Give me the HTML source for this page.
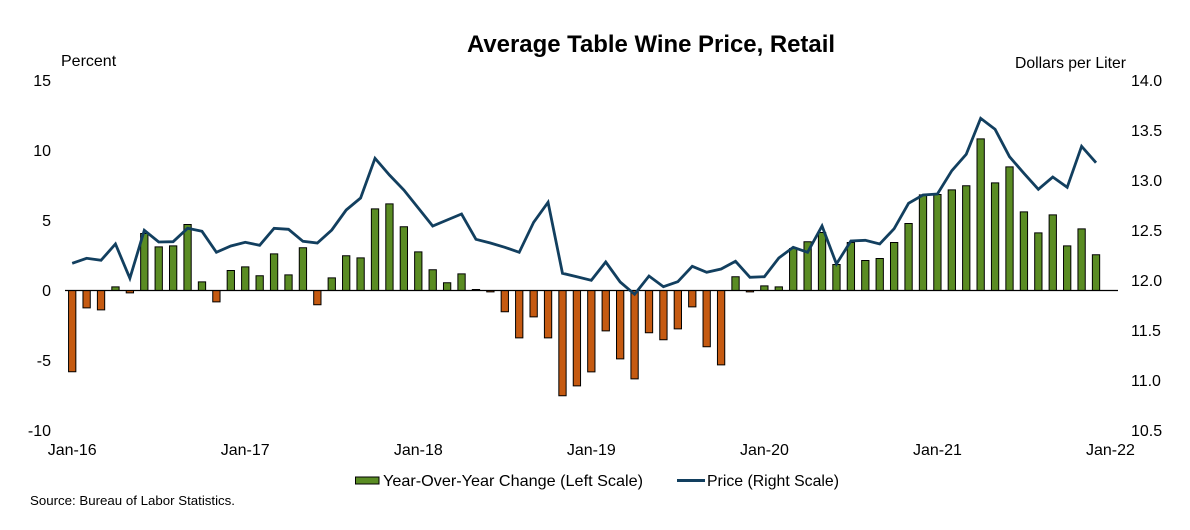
<!DOCTYPE html>
<html>
<head>
<meta charset="utf-8">
<style>
html,body{margin:0;padding:0;background:#fff}
svg{display:block}
text{font-family:"Liberation Sans",Arial,sans-serif;fill:#000}
.ns{vector-effect:non-scaling-stroke}
</style>
</head>
<body>
<svg width="1190" height="530" viewBox="0 0 1190 530" xmlns="http://www.w3.org/2000/svg">
<rect width="1190" height="530" fill="#fff"/>
<text x="467" y="52" font-size="24" font-weight="bold" textLength="368" lengthAdjust="spacingAndGlyphs">Average  Table Wine Price, Retail</text>
<text x="61" y="66" font-size="16">Percent</text>
<text x="1015" y="68" font-size="16" textLength="111" lengthAdjust="spacingAndGlyphs">Dollars per Liter</text>
<g font-size="16" text-anchor="end">
<text x="51" y="86">15</text><text x="51" y="156">10</text><text x="51" y="226">5</text>
<text x="51" y="296">0</text><text x="51" y="366">-5</text><text x="51" y="436">-10</text>
</g>
<g font-size="16">
<text x="1131" y="86">14.0</text><text x="1131" y="136">13.5</text><text x="1131" y="186">13.0</text>
<text x="1131" y="236">12.5</text><text x="1131" y="286">12.0</text><text x="1131" y="336">11.5</text>
<text x="1131" y="386">11.0</text><text x="1131" y="436">10.5</text>
</g>
<g font-size="16" text-anchor="middle">
<text x="72.2" y="455">Jan-16</text><text x="245.2" y="455">Jan-17</text><text x="418.3" y="455">Jan-18</text>
<text x="591.3" y="455">Jan-19</text><text x="764.4" y="455">Jan-20</text><text x="937.4" y="455">Jan-21</text>
<text x="1110.4" y="455">Jan-22</text>
</g>
<g transform="translate(72.2,290.5) scale(14.42,-14)" stroke="#000" stroke-width="1">
<path class="ns" fill="#C55A11" d="
M-0.253,0v-5.8h0.506v5.8z
M0.747,0v-1.24h0.506v1.24z
M1.747,0v-1.38h0.506v1.38z
M3.747,0v-0.17h0.506v0.17z
M9.747,0v-0.81h0.506v0.81z
M16.747,0v-1.02h0.506v1.02z
M28.747,0v-0.1h0.506v0.1z
M29.747,0v-1.52h0.506v1.52z
M30.747,0v-3.38h0.506v3.38z
M31.747,0v-1.88h0.506v1.88z
M32.747,0v-3.38h0.506v3.38z
M33.747,0v-7.52h0.506v7.52z
M34.747,0v-6.81h0.506v6.81z
M35.747,0v-5.81h0.506v5.81z
M36.747,0v-2.88h0.506v2.88z
M37.747,0v-4.88h0.506v4.88z
M38.747,0v-6.31h0.506v6.31z
M39.747,0v-3.02h0.506v3.02z
M40.747,0v-3.52h0.506v3.52z
M41.747,0v-2.74h0.506v2.74z
M42.747,0v-1.17h0.506v1.17z
M43.747,0v-4.02h0.506v4.02z
M44.747,0v-5.31h0.506v5.31z
M46.747,0v-0.1h0.506v0.1z"/>
<path class="ns" fill="#5A8C23" d="
M2.747,0v0.26h0.506v-0.26z
M4.747,0v4.07h0.506v-4.07z
M5.747,0v3.12h0.506v-3.12z
M6.747,0v3.19h0.506v-3.19z
M7.747,0v4.71h0.506v-4.71z
M8.747,0v0.62h0.506v-0.62z
M10.747,0v1.43h0.506v-1.43z
M11.747,0v1.69h0.506v-1.69z
M12.747,0v1.05h0.506v-1.05z
M13.747,0v2.62h0.506v-2.62z
M14.747,0v1.12h0.506v-1.12z
M15.747,0v3.05h0.506v-3.05z
M17.747,0v0.9h0.506v-0.9z
M18.747,0v2.48h0.506v-2.48z
M19.747,0v2.33h0.506v-2.33z
M20.747,0v5.83h0.506v-5.83z
M21.747,0v6.19h0.506v-6.19z
M22.747,0v4.55h0.506v-4.55z
M23.747,0v2.76h0.506v-2.76z
M24.747,0v1.48h0.506v-1.48z
M25.747,0v0.55h0.506v-0.55z
M26.747,0v1.19h0.506v-1.19z
M27.747,0v0.07h0.506v-0.07z
M45.747,0v0.98h0.506v-0.98z
M47.747,0v0.33h0.506v-0.33z
M48.747,0v0.26h0.506v-0.26z
M49.747,0v3.0h0.506v-3.0z
M50.747,0v3.48h0.506v-3.48z
M51.747,0v4.14h0.506v-4.14z
M52.747,0v1.86h0.506v-1.86z
M53.747,0v3.43h0.506v-3.43z
M54.747,0v2.14h0.506v-2.14z
M55.747,0v2.29h0.506v-2.29z
M56.747,0v3.43h0.506v-3.43z
M57.747,0v4.79h0.506v-4.79z
M58.747,0v6.83h0.506v-6.83z
M59.747,0v6.86h0.506v-6.86z
M60.747,0v7.19h0.506v-7.19z
M61.747,0v7.48h0.506v-7.48z
M62.747,0v10.83h0.506v-10.83z
M63.747,0v7.69h0.506v-7.69z
M64.747,0v8.83h0.506v-8.83z
M65.747,0v5.62h0.506v-5.62z
M66.747,0v4.12h0.506v-4.12z
M67.747,0v5.4h0.506v-5.4z
M68.747,0v3.19h0.506v-3.19z
M69.747,0v4.4h0.506v-4.4z
M70.747,0v2.55h0.506v-2.55z"/>
</g>
<line x1="65" y1="290.5" x2="1118" y2="290.5" stroke="#000" stroke-width="1.2"/>
<g transform="translate(72.2,0) scale(14.42,1)">
<polyline class="ns" fill="none" stroke="#123F5F" stroke-width="2.8" points="0,263.3 1,258.3 2,260.3 3,244 4,278.3 5,230.3 6,242 7,241.7 8,228.3 9,231.3 10,252.3 11,246 12,242.3 13,245.3 14,228.3 15,229.3 16,241.3 17,243 18,230 19,210 20,198 21,158.3 22,175 23,190 24,208 25,226 26,220 27,214 28,239.3 29,243 30,247.3 31,252.3 32,222.3 33,202.3 34,273.3 35,276.7 36,280.3 37,262 38,282 39,294.3 40,276 41,286.7 42,281.7 43,266.3 44,272.3 45,269 46,261.3 47,277.3 48,276.7 49,258 50,247.3 51,252.3 52,226 53,264 54,241 55,240.3 56,244 57,228.7 58,203.3 59,195 60,194 61,170.7 62,154.3 63,118.3 64,129.3 65,156.7 66,173.3 67,189.3 68,177 69,187.3 70,146.3 71,162.7"/>
</g>
<rect x="355.5" y="477" width="23.5" height="7" fill="#5A8C23" stroke="#000" stroke-width="1"/>
<text x="383" y="486" font-size="16" textLength="260" lengthAdjust="spacingAndGlyphs">Year-Over-Year Change (Left Scale)</text>
<line x1="677" y1="480.5" x2="705" y2="480.5" stroke="#123F5F" stroke-width="3"/>
<text x="707" y="486" font-size="16" textLength="132" lengthAdjust="spacingAndGlyphs">Price (Right Scale)</text>
<text x="30" y="505" font-size="13" textLength="205" lengthAdjust="spacingAndGlyphs">Source: Bureau  of Labor  Statistics.</text>
</svg>
</body>
</html>
